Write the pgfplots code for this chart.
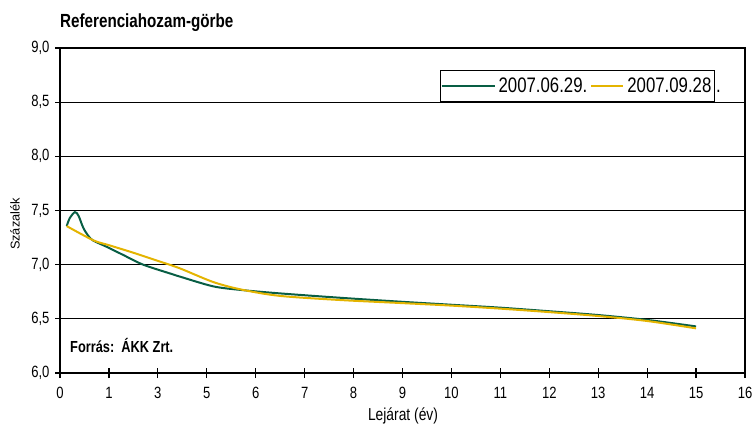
\documentclass[border=0pt]{standalone}
\usepackage{fontspec}
\setmainfont{Liberation Sans}[FakeStretch=0.8]
\newfontfamily\plainsans{Liberation Sans}
\usepackage{pgfplots}
\pgfplotsset{compat=1.18}
\definecolor{cgreen}{RGB}{8,94,68}
\definecolor{cyellow}{RGB}{228,180,0}
\begin{document}
\begin{tikzpicture}
\path[use as bounding box] (-60pt,-50pt) rectangle (692pt,373pt);
\begin{axis}[
  at={(0pt,0pt)}, anchor=south west,
  scale only axis, width=685pt, height=325pt,
  xmin=0, xmax=14, ymin=6, ymax=9,
  xtick={0,...,14},
  xticklabels={0,1,3,5,6,7,8,9,10,11,12,13,14,15,16},
  ytick={6,6.5,...,9},
  /pgf/number format/assume math mode=true,
  yticklabel style={xshift=-2pt, /pgf/number format/.cd, fixed, fixed zerofill, precision=1, use comma},
  tick label style={font=\fontsize{16.3}{18}\selectfont, black},
  xticklabel style={yshift=-6pt},
  xtick pos=bottom, ytick pos=left,
  tick align=center, major tick length=10pt,
  tick style={black, line width=1.2pt},
  axis line style={black, line width=1.6pt},
  ymajorgrids, grid style={black, line width=1.2pt},
  clip=false,
  legend columns=2,
  legend style={at={(0.5547,0.932)}, anchor=north west, draw=black, line width=1.2pt,
     font=\fontsize{21}{23}\selectfont, inner sep=0pt,
     nodes={inner xsep=3pt, inner ysep=7.5pt},
     /tikz/column sep=0pt},
]
\addplot[cgreen, line width=2pt, smooth, tension=0.5,
  legend image code/.code={\path (-15pt,0pt) -- (38pt,0pt);
     \draw[cgreen, draw=cgreen, line width=1.6pt] (0pt,0pt) -- (33pt,0pt);}] coordinates {
(0.137,7.356) (0.2,7.43) (0.306,7.485) (0.38,7.45) (0.476,7.34) (0.58,7.265)
(0.68,7.222) (0.953,7.165) (1.29,7.09) (1.70,7.00) (2.31,6.91) (2.45,6.89) (3.13,6.80)
(3.71,6.766) (4.49,6.735) (5.71,6.695) (7,6.657) (8,6.63) (9,6.603)
(10,6.57) (11,6.535) (12,6.49) (13,6.43)};
\addlegendentry{2007.06.29.}
\addplot[cyellow, line width=2pt, smooth, tension=0.5,
  legend image code/.code={\path (-1pt,0pt) -- (31pt,0pt);
     \draw[cyellow, draw=cyellow, line width=1.6pt] (-1pt,0pt) -- (31pt,0pt);}] coordinates {
(0.137,7.356) (0.68,7.225) (1.0,7.18) (1.5,7.11) (2.0,7.035) (2.45,6.966)
(3.13,6.84) (3.71,6.77) (4.49,6.712) (5.71,6.674) (7,6.645) (8,6.622) (9,6.594) (10,6.562)
(11,6.526) (12,6.48) (13,6.412)};
\addlegendentry{2007.09.28}
\end{axis}
\node[anchor=base west, inner sep=0pt, font=\fontsize{19}{21}\selectfont\bfseries] at (0pt,345pt) {Referenciahozam-görbe};
\node[anchor=base west, inner sep=0pt, font=\fontsize{16}{18}\selectfont\bfseries] at (10pt,20pt) {Forrás:\ \ ÁKK Zrt.};
\node[anchor=center, font=\fontsize{17.3}{19}\selectfont] at (343pt,-43pt) {Lejárat (év)};
\node[anchor=center, rotate=90, font=\plainsans\fontsize{12.8}{14}\selectfont] at (-45pt,149pt) {Százalék};
\node[anchor=base west, inner sep=0pt, font=\fontsize{21}{23}\selectfont] at (656pt,280pt) {.};
\end{tikzpicture}
\end{document}
